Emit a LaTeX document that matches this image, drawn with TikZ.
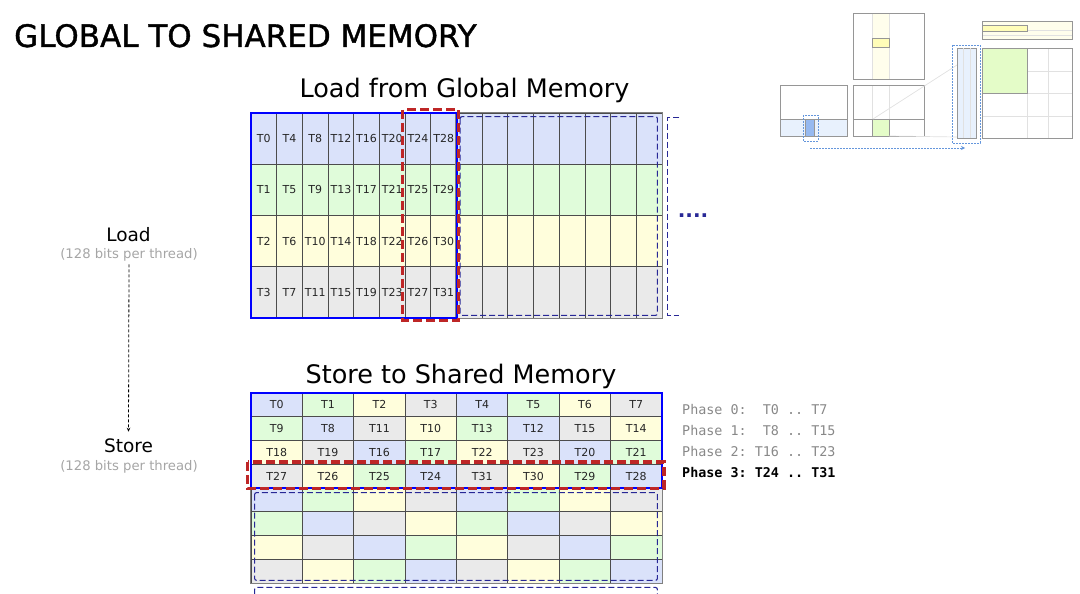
\documentclass[tikz,border=0pt]{standalone}
\usepackage{fontspec}
\setmainfont{DejaVu Sans}
\setmonofont{DejaVu Sans Mono}
\newfontfamily\titlefont[FakeBold=1.2]{DejaVu Sans}
\usetikzlibrary{positioning,arrows.meta}

\definecolor{c0}{RGB}{218,226,250}
\definecolor{c1}{RGB}{224,252,218}
\definecolor{c2}{RGB}{255,254,220}
\definecolor{c3}{RGB}{234,234,234}
\definecolor{warpred}{RGB}{190,38,38}
\definecolor{tilenavy}{RGB}{40,40,150}
\definecolor{notegray}{RGB}{165,165,165}
\definecolor{phasegray}{RGB}{136,136,136}
\definecolor{thumbgray}{RGB}{150,150,150}
\definecolor{thumbfaint}{RGB}{225,225,225}
\definecolor{thumbblue}{RGB}{232,241,253}
\definecolor{thumbdeep}{RGB}{150,185,240}
\definecolor{thumbdash}{RGB}{100,150,220}
\definecolor{thumbgreen}{RGB}{228,252,200}
\definecolor{thumbyellow}{RGB}{255,253,184}
\definecolor{thumbpale}{RGB}{255,254,236}

\tikzset{
  cell/.style={draw=black!70, line width=0.8pt, inner sep=0pt, text=black!85,
    font=\fontsize{11}{12}\selectfont},
  warp/.style={draw=blue, line width=2pt},
  phasebox/.style={draw=warpred, line width=3.5pt, dash pattern=on 9pt off 4pt},
  tile/.style={draw=tilenavy, line width=1.1pt, dash pattern=on 6pt off 3pt, rounded corners=2pt},
  head/.style={font=\fontsize{25.5}{30}\selectfont, anchor=base},
  step label/.style={font=\fontsize{18.5}{22}\selectfont, anchor=base},
  note/.style={font=\fontsize{13.2}{15}\selectfont, text=notegray, anchor=base},
  phaseline/.style={font=\ttfamily\fontsize{13.4}{16}\selectfont, anchor=base west,
    inner xsep=0pt, text=phasegray},
  thumb/.style={draw=thumbgray, line width=0.9pt},
  thumbsel/.style={draw=thumbdash, line width=0.9pt, dash pattern=on 2pt off 1pt},
}

\begin{document}
\begin{tikzpicture}[x=1pt,y=-1pt]
  \clip (0,0) rectangle (1080,594);

  \node[font=\titlefont\fontsize{31}{36}\selectfont, anchor=base west, inner sep=0pt] (title) at (14,47)
    {GLOBAL TO SHARED MEMORY};

  % load from global memory
  \node[head] (loadhead) at (464.5,98) {Load from Global Memory};
  \foreach \r in {0,...,3}
    \foreach \c in {0,...,15} {
      \pgfmathtruncatemacro\t{4*\c+\r}
      \node[cell, fill=c\r, minimum width=25.69pt, minimum height=51.25pt]
        (u-\r-\c) at ({251+25.6875*(\c+0.5)},{113+51.25*(\r+0.5)}) {\ifnum\c<8 T\t\fi};
    }
  \draw[draw=gray, line width=1.5pt] (u-0-8.north west) rectangle (u-3-15.south east);
  \draw[warp] (u-0-0.north west) rectangle (u-3-7.south east);
  \draw[tile] ([shift={(4,4)}]u-0-8.north west) rectangle ([shift={(-5,-3)}]u-3-15.south east);
  \draw[tile, rounded corners=0pt] ([shift={(17,5)}]u-0-15.north east) -- ([shift={(5,5)}]u-0-15.north east)
    -- ([shift={(5,-3)}]u-3-15.south east) -- ([shift={(17,-3)}]u-3-15.south east);
  \node[text=tilenavy, font=\bfseries\fontsize{20}{20}\selectfont, anchor=base] (more) at (693,217) {....};
  \draw[phasebox] ([shift={(-2,-3)}]u-0-6.north west) rectangle ([shift={(1.5,2)}]u-3-7.south east);

  % store to shared memory
  \node[head] (storehead) at (461,383) {Store to Shared Memory};
  \foreach \r/\vals in {0/{0,1,2,3,4,5,6,7}, 1/{1,0,3,2,5,4,7,6},
                        2/{2,3,0,1,6,7,4,5}, 3/{3,2,1,0,7,6,5,4},
                        4/{0,1,2,3,4,5,6,7}, 5/{1,0,3,2,5,4,7,6},
                        6/{2,3,0,1,6,7,4,5}, 7/{3,2,1,0,7,6,5,4}}
    \foreach \v [count=\c from 0] in \vals {
      \pgfmathtruncatemacro\t{8*\r+\v}
      \pgfmathtruncatemacro\k{mod(\v,4)}
      \node[cell, fill=c\k, minimum width=51.375pt, minimum height=23.75pt]
        (s-\r-\c) at ({251+51.375*(\c+0.5)},{393+23.75*(\r+0.5)}) {\ifnum\r<4 T\t\fi};
    }
  \draw[draw=gray, line width=1.5pt] (s-0-0.north west) rectangle (s-7-7.south east);
  \draw[warp] (s-0-0.north west) rectangle (s-3-7.south east);
  \draw[tile] ([shift={(4,5)}]s-4-0.north west) rectangle ([shift={(-5,-3)}]s-7-7.south east);
  \draw[tile] ([shift={(4,4)}]s-7-0.south west) rectangle ([shift={(-5,40)}]s-7-7.south east);
  \draw[phasebox] ([shift={(-3,-2)}]s-3-0.north west) rectangle ([shift={(1.5,0)}]s-3-7.south east);

  % phases
  \node[phaseline] (p0) at (682,414.5) {Phase~0:~~T0~..~T7};
  \node[phaseline] (p1) at (682,435.5) {Phase~1:~~T8~..~T15};
  \node[phaseline] (p2) at (682,456.5) {Phase~2:~T16~..~T23};
  \node[phaseline, text=black, font=\ttfamily\bfseries\fontsize{13.4}{16}\selectfont]
    (p3) at (682,477.5) {Phase~3:~T24~..~T31};

  % load / store
  \node[step label] (load) at (128.5,241) {Load};
  \node[note] (loadnote) at (129,258) {(128 bits per thread)};
  \node[step label] (store) at (128.5,452) {Store};
  \node[note] (storenote) at (129,470) {(128 bits per thread)};
  \draw[-{Stealth[length=4pt,width=3.5pt]}, line width=0.8pt, dash pattern=on 3pt off 2pt,
    shorten >=3pt] (loadnote.south) -- (store.north);

  % thumbnail
  \draw[thumb] (780,85) rectangle (847,136);
  \fill[thumbblue] (780,119) rectangle (847,136);
  \draw[thumb] (780,119) rectangle (847,136);
  \draw[thumb, fill=thumbdeep] (805,119) rectangle (814,136);
  \draw[thumbsel] (803,115) rectangle (818,141);

  \fill[thumbpale] (872,13) rectangle (889,79);
  \draw[thumbfaint, line width=0.8pt] (872,13) -- (872,79) (889,13) -- (889,79);
  \draw[thumb] (853,13) rectangle (924,79);
  \draw[thumb, fill=thumbyellow] (872,38) rectangle (889,47);

  \draw[thumbfaint, line width=0.8pt] (872,85) -- (872,136) (889,85) -- (889,136);
  \draw[thumb] (853,85) rectangle (924,136);
  \draw[thumb] (853,119) -- (924,119);
  \draw[thumb, fill=thumbgreen] (872,119) rectangle (889,136);

  \draw[thumbfaint, line width=0.7pt] (873,119) -- (957,65) (889,136) -- (957,137);

  \draw[thumb, fill=thumbblue] (957,48) rectangle (976,138);
  \draw[thumbfaint, line width=0.5pt] (963,48) -- (963,138) (970,48) -- (970,138);
  \draw[thumbsel] (952,45) rectangle (980,143);

  \fill[thumbpale] (982,21) rectangle (1072,39);
  \draw[thumbfaint, line width=0.5pt] (982,30) -- (1072,30) (982,35) -- (1072,35);
  \draw[thumb] (982,21) rectangle (1072,39);
  \draw[thumb, fill=thumbyellow] (982,25) rectangle (1027,31);

  \draw[thumbfaint, line width=0.6pt] (1027,48) -- (1027,138) (1048,48) -- (1048,138)
    (982,71) -- (1072,71) (982,93) -- (1072,93) (982,116) -- (1072,116);
  \draw[thumb, fill=thumbgreen] (982,48) rectangle (1027,93);
  \draw[thumb] (982,48) rectangle (1072,138);
  \draw[thumbsel, -{Stealth[length=4pt,width=4pt]}] (810,148) -- (965,148);
\end{tikzpicture}
\end{document}
